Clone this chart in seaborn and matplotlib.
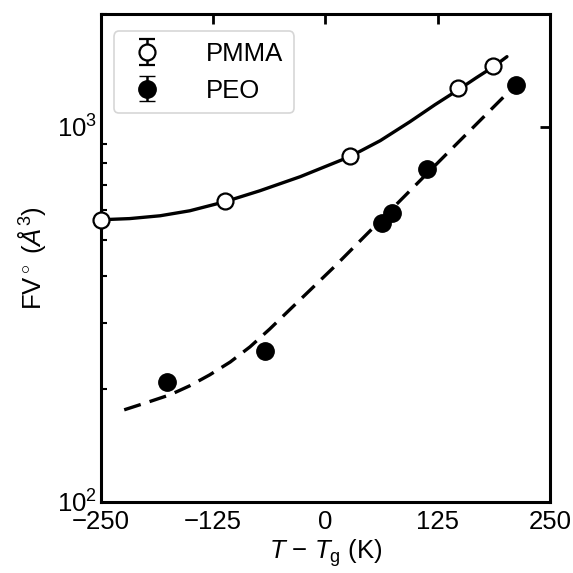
import matplotlib
matplotlib.use("Agg")
import matplotlib.pyplot as plt
import seaborn as sns
import pandas as pd
from matplotlib.ticker import FixedLocator, NullFormatter, FixedFormatter

# ---- data ----
pmma_x = [-250, -112, 27, 147, 187]
pmma_y = [565, 635, 833, 1268, 1455]
pmma_err = [0, 0, 0, 0, 0]

peo_x = [-176, -67, 63, 74, 113, 212]
peo_y = [209, 253, 553, 589, 771, 1294]
peo_err = [0, 0, 0, 0, 0, 0]

# fit curves
pmma_fit_x = [-250, -218, -184, -151, -112, -73, -28, 27, 61, 94, 122, 148, 168, 187, 202]
pmma_fit_y = [565, 569, 579, 597, 631, 675, 736, 832, 918, 1031, 1145, 1255, 1351, 1445, 1537]

peo_fit_x = [-224, -199, -173, -151, -129, -106, -84, -62, -40, -12, 11, 61, 135, 203]
peo_fit_y = [176, 184, 193, 204, 218, 236, 259, 289, 325, 377, 426, 562, 847, 1232]

x_ticks = [-250, -125, 0, 125, 250]
x_tick_labels = ["\u2212250", "\u2212125", "0", "125", "250"]
y_major = [100, 1000]
y_major_labels = [r"$10^{2}$", r"$10^{3}$"]
y_minor = [200, 300, 400, 500, 600, 700, 800, 900, 2000]

sns.set_style("white")
plt.rcParams["font.family"] = ["Liberation Sans", "DejaVu Sans"]
plt.rcParams["mathtext.fontset"] = "custom"
plt.rcParams["mathtext.rm"] = "Liberation Sans"
plt.rcParams["mathtext.it"] = "Liberation Sans:italic"
plt.rcParams["mathtext.bf"] = "Liberation Sans:bold"
plt.rcParams["text.color"] = "black"
plt.rcParams["axes.labelcolor"] = "black"
plt.rcParams["xtick.color"] = "black"
plt.rcParams["ytick.color"] = "black"

fig = plt.figure(figsize=(5.73, 5.73), dpi=100)
ax = fig.add_axes([0.176, 0.124, 0.784, 0.852])

df_pm = pd.DataFrame({"x": pmma_fit_x, "y": pmma_fit_y})
df_pe = pd.DataFrame({"x": peo_fit_x, "y": peo_fit_y})
sns.lineplot(data=df_pm, x="x", y="y", ax=ax, color="black", lw=2.4,
             sort=False, estimator=None, zorder=2)
sns.lineplot(data=df_pe, x="x", y="y", ax=ax, color="black", lw=2.4,
             sort=False, estimator=None, zorder=2, dashes=False,
             linestyle=(0, (5.2, 2.8)))

ax.errorbar(pmma_x, pmma_y, yerr=pmma_err, fmt="o", ms=11.5, mfc="white",
            mec="black", mew=1.6, ecolor="black", elinewidth=1.8, capsize=6,
            capthick=1.8, label="PMMA", zorder=4, clip_on=False)
ax.errorbar(peo_x, peo_y, yerr=peo_err, fmt="o", ms=12.5, mfc="black",
            mec="black", mew=1.0, ecolor="black", elinewidth=1.8, capsize=6,
            capthick=1.8, label="PEO", zorder=4, clip_on=False)

ax.set_yscale("log")
ax.set_xlim(-250, 250)
ax.set_ylim(100, 2000)

ax.xaxis.set_major_locator(FixedLocator(x_ticks))
ax.xaxis.set_major_formatter(FixedFormatter(x_tick_labels))
ax.yaxis.set_major_locator(FixedLocator(y_major))
ax.yaxis.set_major_formatter(FixedFormatter(y_major_labels))
ax.yaxis.set_minor_locator(FixedLocator(y_minor))
ax.yaxis.set_minor_formatter(NullFormatter())

ax.tick_params(axis="both", which="major", direction="in", length=7, width=2,
               labelsize=18.5, top=True, right=True, pad=3, colors="black")
ax.tick_params(axis="y", which="minor", direction="in", length=4, width=1.5,
               left=True, right=False)
ax.tick_params(axis="x", which="major", pad=6)

for s in ax.spines.values():
    s.set_linewidth(2.2)
    s.set_color("black")

ax.set_xlabel(r"$T$ $-$ $T_{\mathrm{g}}$ (K)", fontsize=18.5, labelpad=2,
              color="black")
ax.set_ylabel(r"FV$^\circ$ ($\mathit{Å}^3$)", fontsize=18.5, labelpad=6,
              color="black")

leg = ax.legend(loc="upper left", fontsize=18.5, frameon=True, fancybox=True,
                handlelength=1.8, handletextpad=1.4, borderpad=0.4,
                labelspacing=0.5, bbox_to_anchor=(0.0, 0.99))
leg.get_frame().set_edgecolor("#cccccc")
leg.get_frame().set_linewidth(1.2)
for t in leg.get_texts():
    t.set_color("black")

fig.savefig("out.png", dpi=100)
